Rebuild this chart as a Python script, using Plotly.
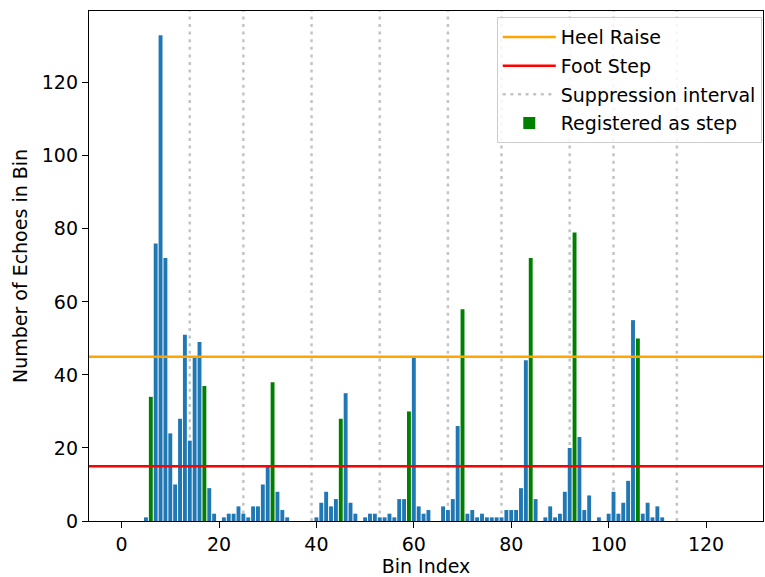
import plotly.graph_objects as go

# ---- data ----
counts = [0, 0, 0, 0, 0, 1, 34, 76, 133, 72,
          24, 10, 28, 51, 22, 45, 49, 37, 9, 2,
          0, 1, 2, 2, 4, 2, 1, 4, 4, 10,
          15, 38, 8, 3, 1, 0, 0, 0, 0, 0,
          1, 5, 8, 4, 6, 28, 35, 5, 2, 0,
          1, 2, 2, 1, 1, 2, 1, 6, 6, 30,
          45, 4, 2, 3, 0, 0, 4, 3, 6, 26,
          58, 2, 3, 1, 2, 1, 1, 1, 1, 3,
          3, 3, 9, 44, 72, 6, 0, 1, 4, 1,
          2, 8, 20, 79, 23, 3, 7, 0, 1, 0,
          2, 8, 2, 5, 11, 55, 50, 2, 5, 1,
          4, 1, 0, 0, 0, 0, 0, 0, 0, 0,
          0, 0, 0, 0, 0, 0]
step_bins = [6, 17, 31, 45, 59, 70, 84, 93, 106]
suppression_lines = [14, 25, 39, 53, 67, 78, 92, 101, 114]
heel_raise = 45
foot_step = 15

bins = list(range(len(counts)))
blue_x = [b for b in bins if b not in step_bins]
blue_y = [counts[b] for b in blue_x]
green_x = list(step_bins)
green_y = [counts[b] for b in green_x]

FONT = "DejaVu Sans"
FS = 19

fig = go.Figure()
fig.add_trace(go.Bar(x=blue_x, y=blue_y, width=0.8, marker=dict(color="#1f77b4", line=dict(width=0)),
                     showlegend=False, hoverinfo="x+y"))
fig.add_trace(go.Bar(x=green_x, y=green_y, width=0.8, marker=dict(color="green", line=dict(width=0)),
                     name="Registered as step", legendgroup="g4", legendrank=4, showlegend=True))

# suppression interval lines
for i, xv in enumerate(suppression_lines):
    fig.add_shape(type="line", xref="x", yref="y domain", x0=xv, x1=xv, y0=0, y1=1,
                  line=dict(color="#c4c4c4", width=2.5, dash="3px,4.6px"), layer="below",
                  showlegend=(i == 0), name="Suppression interval", legendgroup="g3", legendrank=3)

fig.add_shape(type="line", xref="x domain", yref="y", x0=0, x1=1, y0=heel_raise, y1=heel_raise,
              line=dict(color="orange", width=2.5), showlegend=True, name="Heel Raise",
              legendgroup="g1", legendrank=1)
fig.add_shape(type="line", xref="x domain", yref="y", x0=0, x1=1, y0=foot_step, y1=foot_step,
              line=dict(color="red", width=2.5), showlegend=True, name="Foot Step",
              legendgroup="g2", legendrank=2)

axis_common = dict(showline=True, linecolor="black", linewidth=1.3, mirror=True,
                   ticks="outside", ticklen=6, tickwidth=1.3, tickcolor="black",
                   showgrid=False, zeroline=False, automargin=False,
                   tickfont=dict(family=FONT, size=FS, color="black"))

fig.update_layout(
    width=765, height=577,
    margin=dict(l=89, r=2, t=11, b=56, autoexpand=False),
    plot_bgcolor="white", paper_bgcolor="white",
    barmode="overlay",
    font=dict(family=FONT, size=FS, color="black"),
    xaxis=dict(range=[-6.69, 131.69], tickvals=[0, 20, 40, 60, 80, 100, 120],
               title=dict(text="Bin Index", font=dict(family=FONT, size=FS), standoff=9),
               **axis_common),
    yaxis=dict(range=[0, 139.65], tickvals=[0, 20, 40, 60, 80, 100, 120],
               title=dict(text="Number of Echoes in Bin", font=dict(family=FONT, size=FS), standoff=9),
               **axis_common),
    legend=dict(x=0.605, xanchor="left", y=0.988, yanchor="top",
                bgcolor="rgba(255,255,255,0.85)", bordercolor="#cccccc", borderwidth=1,
                font=dict(family=FONT, size=FS, color="black"),
                itemwidth=53, tracegroupgap=1, traceorder="grouped"),
)

fig.write_html("out.html", config={"displayModeBar": False},
               post_script="document.body.style.margin='0px';document.body.style.overflow='hidden';")
